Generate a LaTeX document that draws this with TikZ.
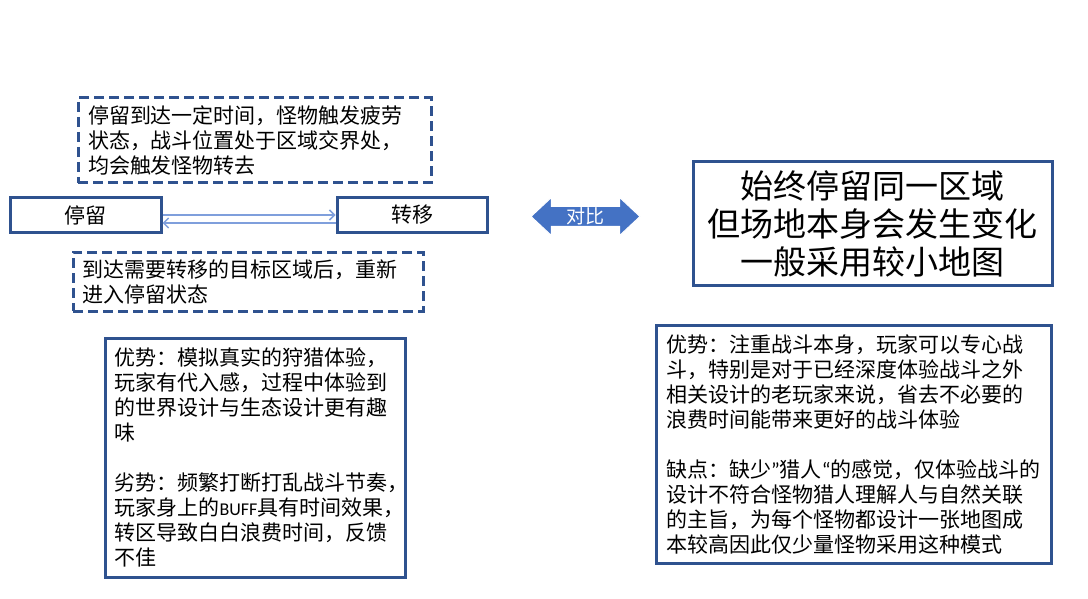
\documentclass[tikz,border=0pt]{standalone}
\usepackage{fontspec}
\setmainfont{Noto Sans CJK SC}
\newfontfamily\latinfont{Carlito}
\usetikzlibrary{shapes.arrows,arrows.meta}
\definecolor{boxblue}{HTML}{2F528F}
\definecolor{fillblue}{HTML}{4472C4}
\definecolor{linkblue}{HTML}{7F9FDC}
\begin{document}
\begin{tikzpicture}[x=1pt,y=-1pt,
  notebox/.style={draw=boxblue,line width=3pt,dash pattern=on 10pt off 5pt,
    inner xsep=9pt,align=left,font=\fontsize{21}{25}\selectfont},
  textbox/.style={draw=boxblue,line width=3pt,inner xsep=9pt,align=left,
    font=\fontsize{21}{25}\selectfont},
  statebox/.style={draw=boxblue,line width=3pt,minimum width=150pt,
    minimum height=35pt,font=\fontsize{21}{24}\selectfont},
  link/.style={draw=linkblue,line width=1.5pt,-{Straight Barb[length=5pt,width=10pt]}}]
\useasboundingbox (0,0) rectangle (1088,599);

\node [notebox,minimum width=353pt,minimum height=85pt,text width=333pt] (leaveNote) at (254.5,140.5)
  {停留到达一定时间，怪物触发疲劳\\状态，战斗位置处于区域交界处，\\均会触发怪物转去};
\node [statebox,minimum width=151pt] (stay) at (85.5,215) {停留};
\node [statebox] (move) at (412,215) {转移};
\node [notebox,minimum width=350pt,minimum height=59pt,text width=331pt] (backNote) at (248,281.5)
  {到达需要转移的目标区域后，重新\\进入停留状态};

\draw [link] (stay.east) -- (move.west);
\draw [link] ([yshift=-8pt]move.west) -- ([yshift=-8pt]stay.east);

\node [textbox,minimum width=300pt,minimum height=239pt,text width=281pt] (hunt) at (255,457.5)
  {优势：模拟真实的狩猎体验，\\玩家有代入感，过程中体验到\\的世界设计与生态设计更有趣\\味\\[25pt]
   劣势：频繁打断打乱战斗节奏，\\玩家身上的{\latinfont\fontsize{18}{25}\selectfont BUFF}具有时间效果，\\转区导致白白浪费时间，反馈\\不佳};

\node [double arrow,fill=fillblue,draw=white,line width=1pt,minimum height=109pt,
  inner xsep=0pt,inner ysep=9.5pt,double arrow head extend=9pt,double arrow tip angle=86,
  label={[white,font=\fontsize{19}{19}\selectfont]center:对比}] (compare) at (585.5,216.5) {};

\node [textbox,minimum width=359pt,minimum height=123pt,align=center,
  font=\fontsize{33}{38}\selectfont] (arena) at (872.5,223.5)
  {始终停留同一区域\\但场地本身会发生变化\\一般采用较小地图};
\node [textbox,minimum width=395pt,minimum height=238pt,text width=375pt] (fight) at (853.5,444)
  {优势：注重战斗本身，玩家可以专心战\\斗，特别是对于已经深度体验战斗之外\\相关设计的老玩家来说，省去不必要的\\浪费时间能带来更好的战斗体验\\[25pt]
   缺点：缺少{\latinfont ”}猎人{\latinfont “}的感觉，仅体验战斗的\\设计不符合怪物猎人理解人与自然关联\\的主旨，为每个怪物都设计一张地图成\\本较高因此仅少量怪物采用这种模式};
\end{tikzpicture}
\end{document}
